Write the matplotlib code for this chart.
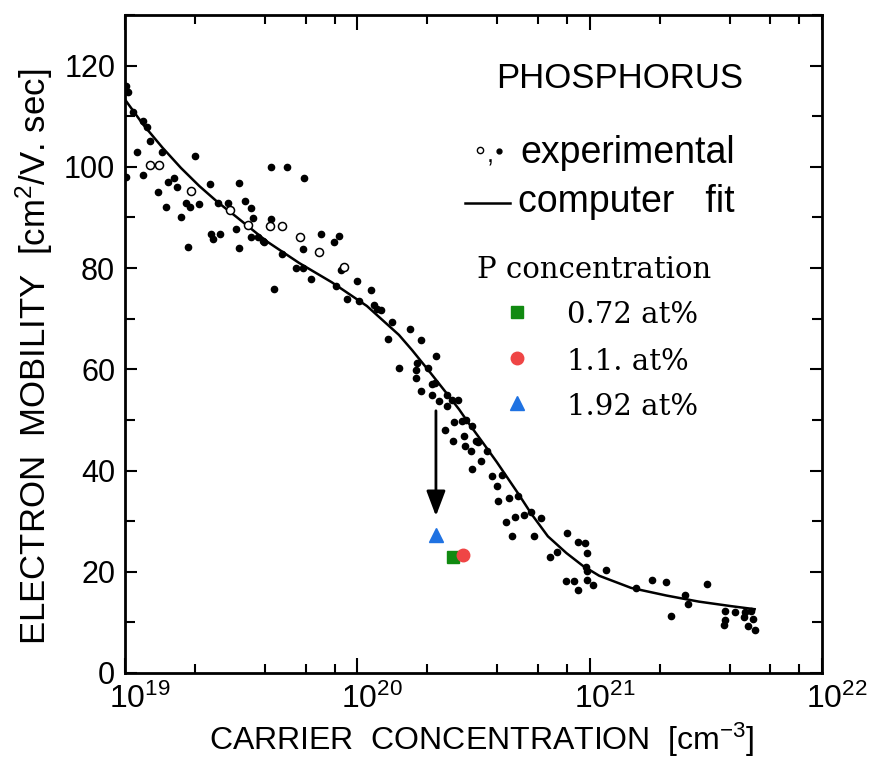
import matplotlib
matplotlib.use('Agg')
import matplotlib.pyplot as plt
from matplotlib import ticker
from matplotlib.transforms import ScaledTranslation

# experimental points (filled dots), carrier concentration [cm^-3] / mobility
exp_n = [1.01e19, 1.03e19, 1.08e19, 1.19e19, 1.24e19, 1.28e19, 1.44e19, 1.13e19, 1.01e19, 1.19e19,
         1.39e19, 1.50e19, 1.53e19, 1.62e19, 1.67e19, 1.74e19, 1.83e19, 1.90e19, 1.86e19, 2.00e19,
         2.08e19, 2.32e19, 2.34e19, 2.39e19, 2.51e19, 2.56e19, 2.77e19, 3.02e19, 3.09e19, 3.09e19,
         3.27e19, 3.47e19, 3.54e19, 3.47e19, 3.72e19, 3.95e19, 4.27e19, 4.96e19, 5.92e19, 4.27e19,
         4.40e19, 4.72e19, 5.47e19, 5.81e19, 5.81e19, 6.35e19, 7.01e19, 7.96e19, 8.37e19, 8.13e19,
         9.06e19, 1.00e20, 1.02e20, 1.15e20, 1.18e20, 1.22e20, 3.91e19, 8.54e19,
         1.26e20, 1.35e20, 1.41e20, 1.69e20, 1.88e20, 2.18e20, 1.51e20, 1.81e20, 1.79e20, 2.02e20,
         1.79e20, 2.10e20, 1.88e20, 2.10e20, 2.25e20, 2.43e20, 2.56e20, 2.71e20, 2.43e20, 2.16e20,
         2.61e20, 2.82e20, 2.94e20, 3.12e20, 2.39e20, 2.58e20, 2.88e20, 2.91e20, 3.24e20, 3.31e20,
         3.08e20, 3.61e20, 3.41e20, 3.12e20, 3.80e20, 4.19e20, 3.99e20, 4.49e20, 4.91e20, 4.03e20,
         5.21e20, 5.58e20, 6.16e20, 4.77e20, 4.36e20, 4.63e20, 5.75e20,
         7.97e20, 8.88e20, 9.52e20, 7.22e20, 6.73e20, 9.71e20, 9.60e20, 9.71e20, 1.18e21, 7.89e20,
         8.54e20, 9.71e20, 1.03e21, 8.88e20, 1.58e21, 1.85e21, 2.14e21, 3.21e21, 2.58e21, 2.66e21,
         2.25e21, 3.83e21, 4.23e21, 4.67e21, 4.96e21, 4.63e21, 5.06e21, 3.83e21, 3.80e21, 4.81e21,
         5.16e21]
exp_mu = [116.0, 114.8, 110.9, 109.1, 107.9, 105.1, 103.0, 103.0, 98.0, 98.4,
          95.1, 92.1, 97.0, 97.8, 96.0, 90.1, 92.9, 92.1, 84.2, 102.2,
          92.7, 96.6, 86.8, 85.8, 92.9, 86.8, 92.9, 87.7, 84.0, 96.8,
          93.3, 91.9, 89.9, 86.2, 86.2, 85.2, 100.0, 100.0, 97.8, 89.7,
          75.9, 82.8, 80.0, 80.0, 83.8, 77.9, 86.8, 85.2, 86.4, 76.5,
          73.9, 77.5, 73.4, 75.7, 72.7, 71.9, 85.4, 79.6,
          71.7, 66.0, 69.4, 68.0, 65.8, 62.6, 60.3, 61.3, 59.9, 60.3,
          58.3, 57.1, 55.7, 54.9, 53.8, 54.9, 54.0, 54.0, 52.8, 57.3,
          49.6, 49.8, 50.0, 48.8, 48.0, 45.8, 46.8, 44.9, 45.8, 45.7,
          43.9, 43.9, 41.9, 40.3, 38.9, 39.1, 37.0, 34.6, 35.0, 34.0,
          31.2, 31.8, 30.6, 30.8, 29.8, 27.1, 27.1,
          27.6, 25.9, 25.7, 23.9, 22.9, 23.7, 20.9, 20.2, 20.4, 18.2,
          18.2, 18.4, 17.4, 16.4, 16.8, 18.4, 18.0, 17.6, 15.4, 13.6,
          11.3, 12.3, 12.1, 12.1, 12.3, 11.1, 10.7, 10.5, 9.5, 9.3,
          8.5]

# experimental points (open circles)
open_n = [1.28e19, 1.40e19, 1.92e19, 2.82e19, 3.37e19, 4.23e19, 4.72e19, 5.64e19, 6.87e19, 8.80e19]
open_mu = [100.4, 100.4, 95.3, 91.5, 88.5, 88.3, 88.3, 86.2, 83.2, 80.2]

# computer fit
fit_n = [1.0e19, 1.20e19, 1.45e19, 1.74e19, 2.09e19, 2.51e19, 3.02e19, 4.07e19, 5.62e19, 7.76e19,
         1.10e20, 1.51e20, 1.72e20, 2.04e20, 2.41e20, 2.74e20, 3.02e20, 3.47e20, 3.98e20, 4.90e20,
         5.62e20, 6.61e20, 7.94e20, 9.33e20, 1.10e21, 1.51e21, 2.14e21, 2.95e21, 4.07e21, 5.13e21]
fit_mu = [113.3, 108.3, 103.8, 99.8, 96.2, 93.0, 90.1, 85.3, 81.0, 77.2,
          72.5, 66.8, 63.8, 59.6, 55.4, 52.1, 49.3, 45.5, 41.7, 35.6,
          31.4, 27.0, 23.7, 21.2, 19.2, 16.8, 15.3, 14.1, 13.2, 12.6]

# P concentration samples
p_labels = ['0.72 at%', '1.1. at%', '1.92 at%']
p_n = [2.57e20, 2.85e20, 2.18e20]
p_mu = [22.9, 23.3, 27.3]
p_markers = ['s', 'o', '^']
p_sizes = [8, 9, 10]
p_colors = ['#118a11', '#ef4545', '#1f72e2']

arrow_n = 2.18e20
arrow_from = 51.8
arrow_to = 31.0

plt.rcParams['font.family'] = ['Liberation Sans', 'DejaVu Sans']
plt.rcParams['mathtext.fontset'] = 'custom'
plt.rcParams['mathtext.rm'] = 'Liberation Sans'
plt.rcParams['mathtext.it'] = 'Liberation Sans'
plt.rcParams['mathtext.default'] = 'regular'

fig = plt.figure(figsize=(8.69, 7.65), dpi=100)
ax = fig.add_axes([0.1438, 0.1203, 0.8021, 0.8601])

ax.plot(fit_n, fit_mu, '-', color='k', lw=1.8, zorder=2)
ax.plot(exp_n, exp_mu, 'o', ms=4.5, color='k', zorder=3)
ax.plot(open_n, open_mu, 'o', ms=5.8, mfc='white', mec='k', mew=1.1, zorder=3)

ax.annotate('', xy=(arrow_n, arrow_to), xytext=(arrow_n, arrow_from),
            arrowprops=dict(arrowstyle='-|>,head_length=0.45,head_width=0.17', color='k', lw=2,
                            mutation_scale=34, shrinkA=0, shrinkB=0))

for n, mu, m, s, c in zip(p_n, p_mu, p_markers, p_sizes, p_colors):
    ax.plot([n], [mu], m, ms=s, color=c, zorder=4)

ax.set_xscale('log')
ax.set_xlim(1e19, 1e22)
ax.set_ylim(0, 130)
ax.xaxis.set_major_locator(ticker.LogLocator(base=10, numticks=10))
ax.xaxis.set_minor_locator(ticker.LogLocator(base=10, subs=[2, 4, 6, 8], numticks=10))
ax.xaxis.set_minor_formatter(ticker.NullFormatter())
ax.yaxis.set_major_locator(ticker.MultipleLocator(20))
ax.yaxis.set_minor_locator(ticker.MultipleLocator(10))

ax.tick_params(which='both', direction='in', top=True, right=True, width=1.5)
ax.tick_params(axis='x', which='major', length=11, pad=8, labelsize=23)
ax.tick_params(axis='x', which='minor', length=6.5)
ax.tick_params(axis='y', which='major', length=8.5, pad=7, labelsize=22)
ax.tick_params(axis='y', which='minor', length=7.5)
for sp in ax.spines.values():
    sp.set_linewidth(2)

offset = ScaledTranslation(0.15, 0, fig.dpi_scale_trans)
for lab in ax.xaxis.get_majorticklabels():
    lab.set_transform(lab.get_transform() + offset)

ax.set_ylabel('ELECTRON  MOBILITY  [cm$^{2}$/V. sec]', fontsize=25)
ax.yaxis.set_label_coords(-0.100, 0.48)
ax.set_xlabel('CARRIER  CONCENTRATION  [cm$^{-3}$]', fontsize=23)
ax.xaxis.set_label_coords(0.512, -0.073)

# legend block, drawn by hand like the original
ax.text(0.710, 0.904, 'PHOSPHORUS', fontsize=25, ha='center', va='center', transform=ax.transAxes)
ax.plot([0.509], [0.795], 'o', ms=4.5, mfc='white', mec='k', mew=1, transform=ax.transAxes)
ax.text(0.519, 0.786, ',', fontsize=18, ha='left', va='center', transform=ax.transAxes)
ax.plot([0.537], [0.793], 'o', ms=3.5, color='k', transform=ax.transAxes)
ax.text(0.567, 0.775, 'experimental', fontsize=27, ha='left', va='baseline', transform=ax.transAxes)
ax.plot([0.488, 0.552], [0.714, 0.714], '-', color='k', lw=1.8, transform=ax.transAxes)
ax.text(0.564, 0.700, 'computer   fit', fontsize=27, ha='left', va='baseline', transform=ax.transAxes)

serif = ['DejaVu Serif']
ax.text(0.505, 0.600, 'P concentration', fontsize=21, family=serif, ha='left', va='baseline',
        transform=ax.transAxes)
legend_y = [0.549, 0.479, 0.410]
text_y = [0.532, 0.460, 0.392]
for lab, m, s, c, my, ty in zip(p_labels, p_markers, p_sizes, p_colors, legend_y, text_y):
    ax.plot([0.562], [my], m, ms=s, color=c, transform=ax.transAxes)
    ax.text(0.634, ty, lab, fontsize=21, family=serif, ha='left', va='baseline',
            transform=ax.transAxes)

fig.savefig('out.png', dpi=100)
